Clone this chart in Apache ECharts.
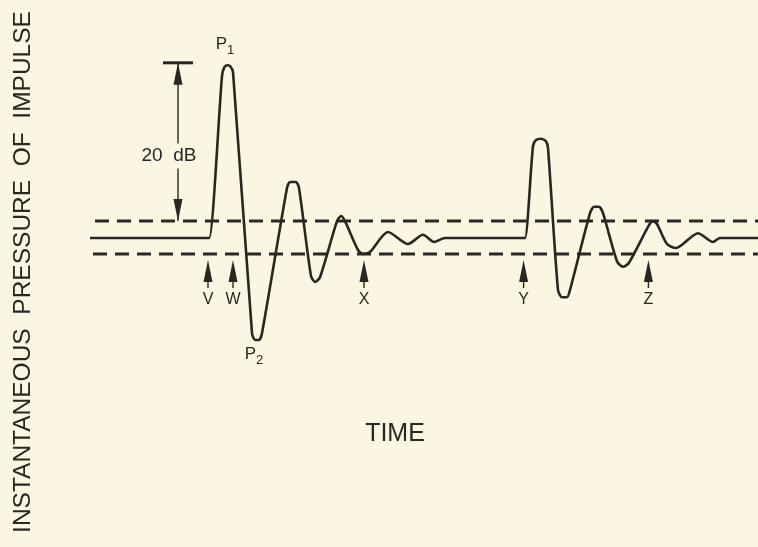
<!DOCTYPE html>
<html>
<head>
<meta charset="utf-8">
<script src="https://cdn.jsdelivr.net/npm/echarts@6/dist/echarts.min.js"></script>
<style>
html,body{margin:0;padding:0;background:#fbf6e1;}
#chart{width:758px;height:547px;}
</style>
</head>
<body>
<div id="chart"></div>
<script>
// Waveform: [time, pressure] (arbitrary units; 0 = ambient)
const waveTime = [0, 29.3, 29.8, 33, 33.5, 34.25, 35, 35.75, 40.5, 41.25, 42.25, 43, 49.25, 50, 51.5, 52.25, 55.25, 56.25, 57.5, 61.75, 62.75, 63.75, 67, 68.25, 70, 74.5, 79.5, 83.25, 86, 88.75, 108.2, 108.75, 110.75, 111.5, 112.75, 114, 114.5, 117, 118, 119.25, 120, 125, 126, 127.25, 128.25, 131.75, 133.25, 134.75, 139.75, 140.75, 141.75, 144.25, 146.5, 152, 155.75, 157.5, 167];
const wavePressure = [0, 0, 0, 20.25, 21.25, 21.6, 21.5, 20.75, -11.9, -12.75, -12.75, -11.9, 6.25, 7, 7, 6.25, -4.75, -5.5, -4.9, 2.1, 2.75, 2.1, -1.5, -2, -1.75, 0.75, -0.75, 0.4, -0.5, 0, 0, 0, 11.5, 12.25, 12.4, 12.1, 11.25, -6.5, -7.4, -7.4, -6.5, 3.1, 3.9, 3.9, 3.1, -2.9, -3.6, -3.1, 1.6, 2.1, 1.75, -0.75, -1.25, 0.6, -0.5, 0, 0];
// Threshold (dashed) lines
const upperThreshold = 2.125;
const lowerThreshold = -2;
const upperStart = 1.25, lowerStart = 0.75, thresholdEnd = 167;
// Time markers
const markerLabels = ['V', 'W', 'X', 'Y', 'Z'];
const markerTimes = [29.5, 35.75, 68.5, 108.4, 139.6];
const markerTip = -2.75;
// Peak labels
const peakLabels = ['P', 'P'];
const peakSubs = ['1', '2'];
const peakTimes = [34.5, 41.75];
const peakValues = [21.6, -12.75];
// 20 dB dimension
const dimTime = 22;
const dimLow = 2.125;
const dimHigh = 21.9;
const dimLabel = '20  dB';
// Axis titles
const yTitle = 'INSTANTANEOUS  PRESSURE  OF  IMPULSE';
const xTitle = 'TIME';

const INK = '#2a2723';
const BG = '#fbf6e1';

const waveData = waveTime.map((t, i) => [t, wavePressure[i]]);

const chart = echarts.init(document.getElementById('chart'));
chart.setOption({
  backgroundColor: BG,
  animation: false,
  grid: {left: 90, right: 0, top: 46, height: 320},
  xAxis: {type: 'value', min: 0, max: 167, show: false},
  yAxis: {type: 'value', min: -16, max: 24, show: false},
  graphic: [
    {type: 'text', x: 23, y: 272, rotation: Math.PI / 2,
      style: {text: yTitle, fill: INK,
        font: '24.5px "Liberation Sans", Arial, sans-serif', align: 'center', verticalAlign: 'middle'}},
    {type: 'text', x: 395, y: 434,
      style: {text: xTitle, fill: INK, font: '25px "Liberation Sans", Arial, sans-serif',
        align: 'center', verticalAlign: 'middle'}}
  ],
  series: [
    {type: 'line', data: [[upperStart, upperThreshold], [thresholdEnd, upperThreshold]], symbol: 'none',
      lineStyle: {color: INK, width: 3, type: [14, 8]}, z: 2},
    {type: 'line', data: [[lowerStart, lowerThreshold], [thresholdEnd, lowerThreshold]], symbol: 'none',
      lineStyle: {color: INK, width: 3, type: [14, 8]}, z: 2},
    {type: 'line', data: waveData, symbol: 'none', smooth: 0.25,
      lineStyle: {color: INK, width: 2.6}, z: 3},
    {type: 'custom', z: 4,
      data: markerTimes.map((t, i) => [t, markerTip, i]),
      renderItem: function (params, api) {
        const p = api.coord([api.value(0), api.value(1)]);
        const x = p[0], y = p[1];
        const lab = markerLabels[api.value(2)];
        return {type: 'group', children: [
          {type: 'polygon', shape: {points: [[x, y], [x - 4.5, y + 22], [x + 4.5, y + 22]]}, style: {fill: INK}},
          {type: 'line', shape: {x1: x, y1: y + 18, x2: x, y2: y + 28}, style: {stroke: INK, lineWidth: 1.4}},
          {type: 'text', x: x, y: y + 40, style: {text: lab, fill: INK, font: '16px "Liberation Sans", Arial, sans-serif',
            align: 'center', verticalAlign: 'middle'}}
        ]};
      }},
    {type: 'custom', z: 4,
      data: peakTimes.map((t, i) => [t, peakValues[i], i]),
      renderItem: function (params, api) {
        const i = api.value(2);
        const p = api.coord([api.value(0), api.value(1)]);
        const dy = i === 0 ? -21 : 14;
        const cx = p[0] - 1, cy = p[1] + dy;
        return {type: 'group', children: [
          {type: 'text', x: cx, y: cy, style: {text: peakLabels[i], fill: INK, font: '17px "Liberation Sans", Arial, sans-serif',
            align: 'right', verticalAlign: 'middle'}},
          {type: 'text', x: cx, y: cy + 6, style: {text: peakSubs[i], fill: INK, font: '13px "Liberation Sans", Arial, sans-serif',
            align: 'left', verticalAlign: 'middle'}}
        ]};
      }},
    {type: 'custom', z: 4,
      data: [[dimTime, dimLow, dimHigh]],
      renderItem: function (params, api) {
        const lo = api.coord([api.value(0), api.value(1)]);
        const hi = api.coord([api.value(0), api.value(2)]);
        const x = lo[0];
        const mid = api.coord([api.value(0), (api.value(1) + api.value(2)) / 2 - 1.75]);
        return {type: 'group', children: [
          {type: 'line', shape: {x1: x, y1: hi[1], x2: x, y2: lo[1]}, style: {stroke: INK, lineWidth: 1.4}},
          {type: 'line', shape: {x1: x - 15, y1: hi[1], x2: x + 15, y2: hi[1]}, style: {stroke: INK, lineWidth: 3}},
          {type: 'polygon', shape: {points: [[x, hi[1]], [x - 4.5, hi[1] + 22], [x + 4.5, hi[1] + 22]]}, style: {fill: INK}},
          {type: 'polygon', shape: {points: [[x, lo[1]], [x - 4.5, lo[1] - 22], [x + 4.5, lo[1] - 22]]}, style: {fill: INK}},
          {type: 'text', x: x - 9, y: mid[1], style: {text: dimLabel, fill: INK, font: '19px "Liberation Sans", Arial, sans-serif',
            align: 'center', verticalAlign: 'middle', backgroundColor: BG, padding: [3, 1]}}
        ]};
      }}
  ]
});
</script>
</body>
</html>
